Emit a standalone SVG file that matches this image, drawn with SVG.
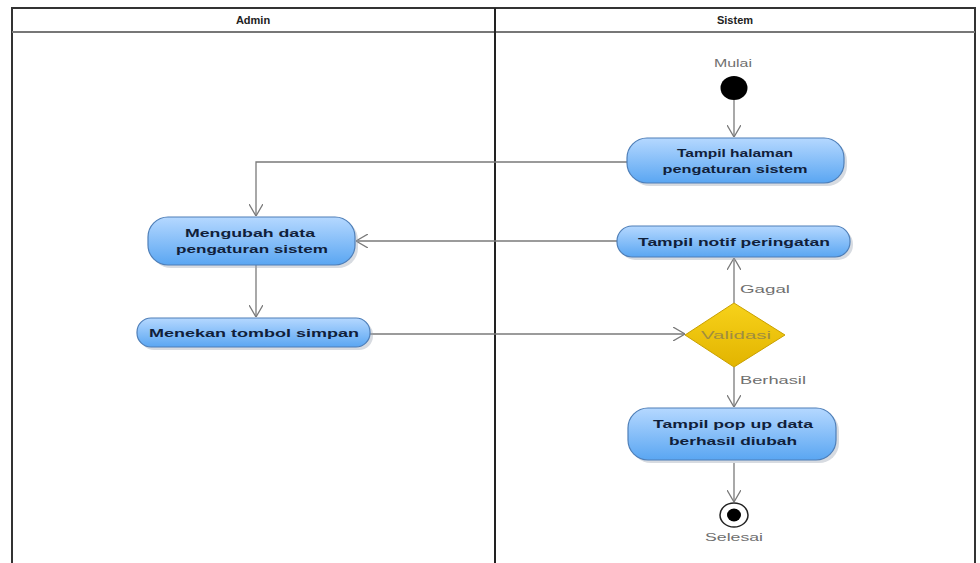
<svg xmlns="http://www.w3.org/2000/svg" width="980" height="563" viewBox="0 0 980 563">
  <style>
    .lane { fill: none; stroke: #333; stroke-width: 2; }
    .hdr { font-family: "Liberation Sans", Arial, sans-serif; font-size: 11px; font-weight: bold; fill: #222; text-anchor: middle; }
    .act { fill: url(#actFill); stroke: #4f7fb8; stroke-width: 1.2; }
    .shadow { fill: #9aa6b4; opacity: 0.4; }
    .lbl { font-family: "Liberation Sans", Arial, sans-serif; font-size: 11px; font-weight: bold; fill: #10203a; text-anchor: middle; }
    .note { font-family: "Liberation Sans", Arial, sans-serif; font-size: 11px; fill: #707070; text-anchor: middle; }
    .flow { fill: none; stroke: #7a7a7a; stroke-width: 1.3; marker-end: url(#open); }
  </style>
  <defs>
    <linearGradient id="actFill" x1="0" y1="0" x2="0" y2="1">
      <stop offset="0" stop-color="#b5d8ff"/>
      <stop offset="1" stop-color="#5aa6f2"/>
    </linearGradient>
    <linearGradient id="decFill" x1="0" y1="0" x2="0" y2="1">
      <stop offset="0" stop-color="#f7d21a"/>
      <stop offset="1" stop-color="#e2b400"/>
    </linearGradient>
    <marker id="open" viewBox="0 0 12 14" refX="12" refY="7" markerWidth="12" markerHeight="14" markerUnits="userSpaceOnUse" orient="auto">
      <path d="M0,0 L12,7 L0,14" fill="none" stroke="#7a7a7a" stroke-width="1.3"/>
    </marker>
  </defs>

  <rect width="980" height="563" fill="#ffffff"/>

  <!-- swimlanes -->
  <g id="lanes">
    <path class="lane" d="M12,570 V8 H975 V570"/>
    <line x1="12" y1="32" x2="975" y2="32" stroke="#777" stroke-width="2"/>
    <line x1="495" y1="8" x2="495" y2="570" stroke="#222" stroke-width="2"/>
    <text class="hdr" x="253" y="24">Admin</text>
    <text class="hdr" x="735" y="24">Sistem</text>
  </g>

  <!-- connectors -->
  <g id="connectors">
    <line class="flow" x1="734" y1="100" x2="734" y2="137"/>
    <polyline class="flow" points="627,162 256,162 256,216"/>
    <line class="flow" x1="617" y1="241" x2="356" y2="241"/>
    <line class="flow" x1="256" y1="265" x2="256" y2="317"/>
    <line class="flow" x1="370" y1="334" x2="685" y2="334"/>
    <line class="flow" x1="734" y1="303" x2="734" y2="258"/>
    <line class="flow" x1="734" y1="367" x2="734" y2="407"/>
    <line class="flow" x1="734" y1="463" x2="734" y2="502"/>
    <text class="note" x="765" y="293" textLength="50" lengthAdjust="spacingAndGlyphs">Gagal</text>
    <text class="note" x="773" y="384" textLength="66" lengthAdjust="spacingAndGlyphs">Berhasil</text>
  </g>

  <g id="start">
    <ellipse cx="734" cy="88" rx="13.5" ry="12" fill="#000"/>
    <text class="note" x="733" y="67" textLength="38" lengthAdjust="spacingAndGlyphs">Mulai</text>
  </g>

  <g id="tampil-halaman">
    <rect class="shadow" x="630" y="141" width="217" height="45" rx="20"/>
    <rect class="act" x="627" y="138" width="217" height="45" rx="20"/>
    <text class="lbl" x="735" y="157" textLength="116" lengthAdjust="spacingAndGlyphs">Tampil halaman</text>
    <text class="lbl" x="735" y="173" textLength="145" lengthAdjust="spacingAndGlyphs">pengaturan sistem</text>
  </g>

  <g id="mengubah-data">
    <rect class="shadow" x="151" y="220" width="207" height="48" rx="20"/>
    <rect class="act" x="148" y="217" width="207" height="48" rx="20"/>
    <text class="lbl" x="250" y="237" textLength="130" lengthAdjust="spacingAndGlyphs">Mengubah data</text>
    <text class="lbl" x="252" y="253" textLength="152" lengthAdjust="spacingAndGlyphs">pengaturan sistem</text>
  </g>

  <g id="menekan-tombol">
    <rect class="shadow" x="140" y="321" width="233" height="29" rx="14"/>
    <rect class="act" x="137" y="318" width="233" height="29" rx="14"/>
    <text class="lbl" x="254" y="337" textLength="210" lengthAdjust="spacingAndGlyphs">Menekan tombol simpan</text>
  </g>

  <g id="tampil-notif">
    <rect class="shadow" x="620" y="229" width="233" height="31" rx="15"/>
    <rect class="act" x="617" y="226" width="233" height="31" rx="15"/>
    <text class="lbl" x="734" y="246" textLength="192" lengthAdjust="spacingAndGlyphs">Tampil notif peringatan</text>
  </g>

  <g id="validasi">
    <polygon points="734,303 785,335 734,367 685,335" fill="url(#decFill)" stroke="#c9a000" stroke-width="1"/>
    <text class="note" x="736" y="339" textLength="70" lengthAdjust="spacingAndGlyphs" style="fill:#a08d40">Validasi</text>
  </g>

  <g id="tampil-popup">
    <rect class="shadow" x="631" y="411" width="208" height="52" rx="20"/>
    <rect class="act" x="628" y="408" width="208" height="52" rx="20"/>
    <text class="lbl" x="733" y="428" textLength="160" lengthAdjust="spacingAndGlyphs">Tampil pop up data</text>
    <text class="lbl" x="733" y="445" textLength="128" lengthAdjust="spacingAndGlyphs">berhasil diubah</text>
  </g>

  <g id="end">
    <ellipse cx="734" cy="515" rx="14" ry="12" fill="#fff" stroke="#222" stroke-width="1.5"/>
    <ellipse cx="734" cy="515" rx="7" ry="6.5" fill="#000"/>
    <text class="note" x="734" y="541" textLength="58" lengthAdjust="spacingAndGlyphs">Selesai</text>
  </g>
</svg>
